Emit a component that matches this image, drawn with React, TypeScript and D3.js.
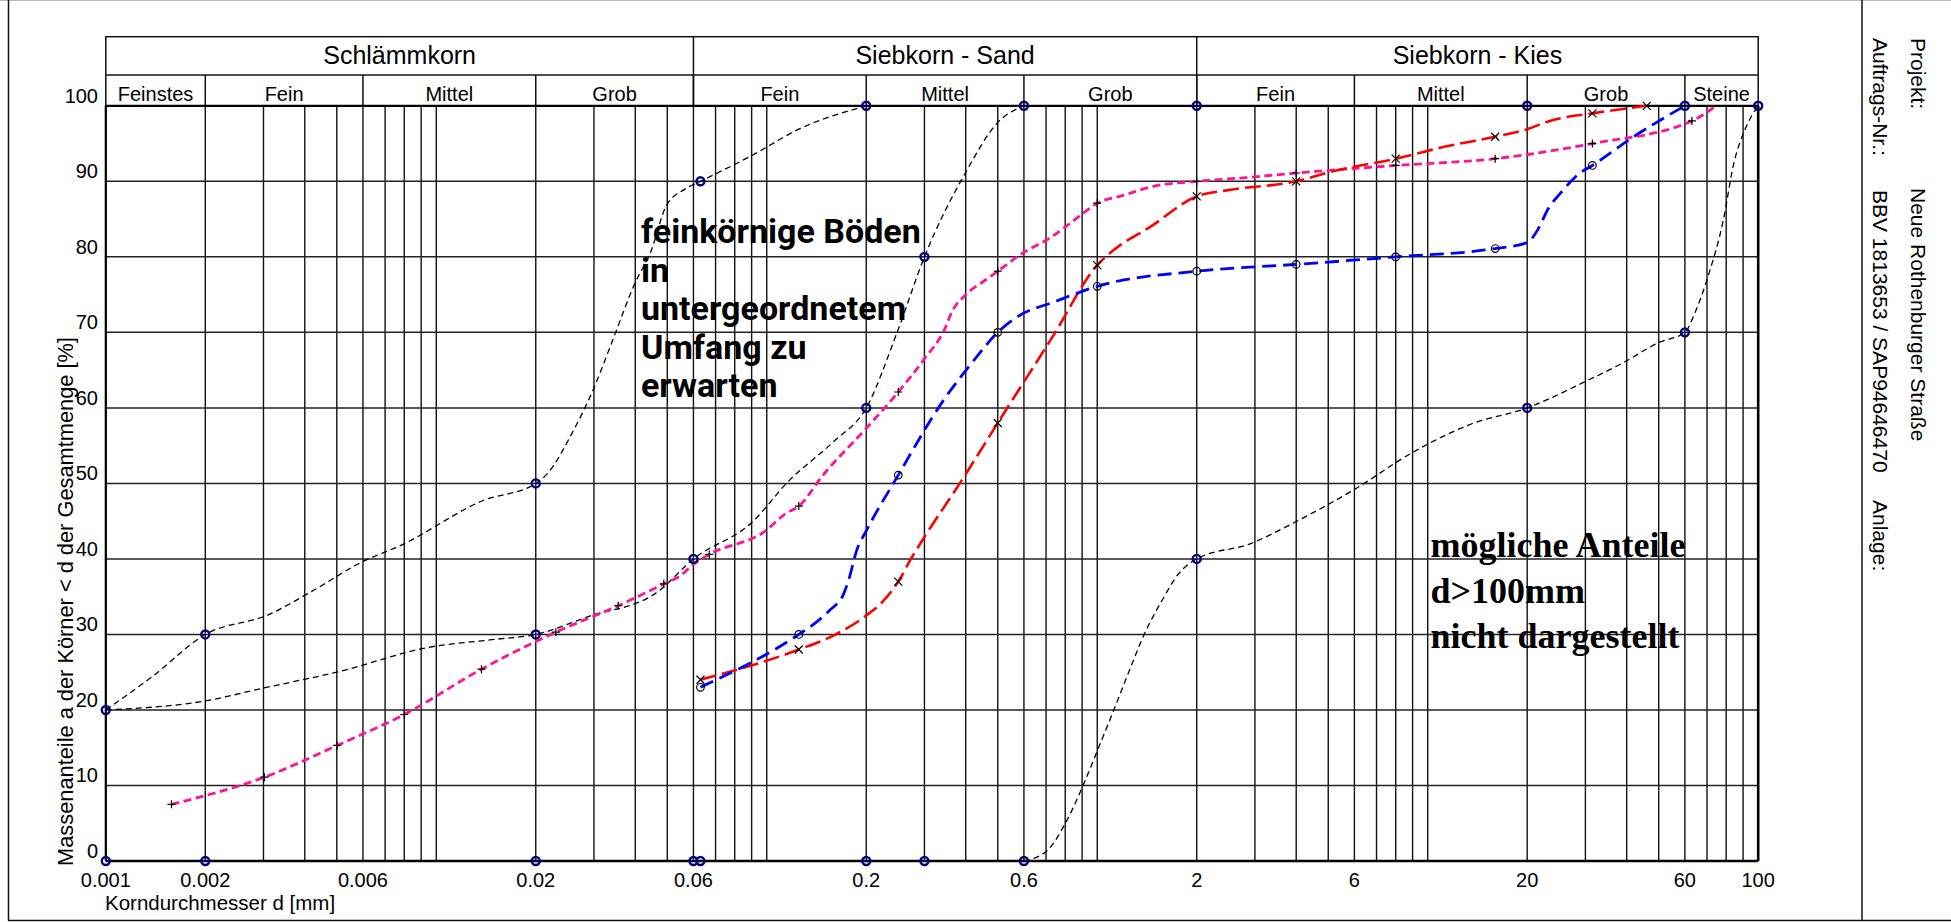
import * as d3 from "d3";

// Kornverteilung – Körnungslinien nach DIN 18123

const xTickLabels = [0.001, 0.002, 0.006, 0.02, 0.06, 0.2, 0.6, 2, 6, 20, 60, 100];
const yTickLabels = [0, 10, 20, 30, 40, 50, 60, 70, 80, 90, 100];

// top header row: [label, from, to]
const groupBands: [string, number, number][] = [
  ["Schlämmkorn", 0.001, 0.06],
  ["Siebkorn - Sand", 0.06, 2],
  ["Siebkorn - Kies", 2, 100],
];

// second header row
const subBands: [string, number, number][] = [
  ["Feinstes", 0.001, 0.002],
  ["Fein", 0.002, 0.006],
  ["Mittel", 0.006, 0.02],
  ["Grob", 0.02, 0.06],
  ["Fein", 0.06, 0.2],
  ["Mittel", 0.2, 0.6],
  ["Grob", 0.6, 2],
  ["Fein", 2, 6],
  ["Mittel", 6, 20],
  ["Grob", 20, 60],
  ["Steine", 60, 100],
];

// boundary curves (black, thin dashed): [d mm, % passing]
const boundaryA: [number, number][] = [
  [0.001, 20], [0.00138, 24.4], [0.002, 30], [0.0031, 32.6], [0.0042, 35.7],
  [0.0059, 39.5], [0.0079, 41.9], [0.0138, 47.7], [0.02, 50], [0.0218, 51.4],
  [0.0255, 56.3], [0.0299, 62.5], [0.034, 68.7], [0.04, 76.6], [0.0445, 80.6],
  [0.0497, 86.8], [0.0567, 89.0], [0.063, 90], [0.09, 93.4], [0.125, 96.9], [0.2, 100],
];
const boundaryB: [number, number][] = [
  [0.001, 20], [0.002, 21.2], [0.003, 22.9], [0.0051, 25.1], [0.0095, 28.3],
  [0.0147, 29.3], [0.02, 30], [0.029, 32.4], [0.0463, 35.5], [0.06, 40],
  [0.09, 44.8], [0.117, 50.4], [0.159, 55.5], [0.2, 60], [0.248, 70], [0.3, 80],
  [0.4, 91.2], [0.5, 97.8], [0.6, 100],
];
const boundaryC: [number, number][] = [
  [0.6, 0], [0.706, 1.4], [0.81, 5.4], [0.91, 10.2], [1.02, 15.5], [1.12, 19.9],
  [1.24, 24.8], [1.39, 30.1], [1.57, 34.5], [1.76, 38], [2, 40], [2.9, 42],
  [4.06, 45.1], [6, 49.2], [9, 54.1], [13.6, 57.9], [20, 60], [29.7, 63.4],
  [39.1, 66], [50.3, 68.7], [60, 70], [64.5, 72.7], [70.6, 77.5], [78.2, 84.6],
  [84.5, 92.5], [91.3, 96.9], [100, 100],
];
// navy circles on the boundary curves and the frame
const boundaryNodes: [number, number][] = [
  [0.001, 0], [0.002, 0], [0.02, 0], [0.06, 0], [0.063, 0], [0.2, 0], [0.3, 0], [0.6, 0],
  [0.2, 100], [0.6, 100], [2, 100], [20, 100], [60, 100], [100, 100],
  [0.001, 20], [0.002, 30], [0.02, 50], [0.063, 90],
  [0.02, 30], [0.06, 40], [0.2, 60], [0.3, 80],
  [2, 40], [20, 60], [60, 70],
];

// sample curves: [d mm, % passing, 1 = measured point]
const pinkCurve: [number, number, number][] = [
  [0.00158, 7.5, 1], [0.00302, 11.1, 1], [0.00501, 15.3, 1], [0.008, 19.4, 1],
  [0.0137, 25.4, 1], [0.023, 30.3, 1], [0.0355, 33.8, 1], [0.0488, 36.7, 1],
  [0.0549, 37.8, 0], [0.06, 39.3, 0], [0.067, 40.6, 1], [0.099, 43.7, 0],
  [0.114, 46.0, 0], [0.125, 47, 1], [0.148, 51.1, 0], [0.2, 57.3, 0], [0.25, 62.1, 1],
  [0.3, 66.5, 0], [0.346, 70.5, 0], [0.363, 72.7, 0], [0.398, 74.9, 0], [0.458, 76.9, 0],
  [0.5, 78.1, 1], [0.581, 80.2, 0], [0.737, 82.8, 0], [0.89, 85.5, 0], [1, 87.1, 1],
  [1.19, 88.1, 0], [1.5, 89.4, 0], [2, 90, 1], [2.83, 90.5, 0], [4, 91.1, 1],
  [8, 92.1, 1], [16, 93, 1], [31.5, 95, 1], [63, 98, 1], [69.7, 99.1, 0], [74.3, 100, 0],
];
const redCurve: [number, number, number][] = [
  [0.063, 24, 1], [0.125, 28, 1], [0.159, 29.85, 0], [0.2, 32.5, 0], [0.226, 34.5, 0],
  [0.25, 37, 1], [0.273, 40, 0], [0.3, 42.9, 0], [0.389, 50.4, 0], [0.5, 58, 1],
  [0.737, 69.6, 0], [1, 78.9, 1], [1.1, 80.6, 0], [1.45, 84, 0], [2, 88, 1],
  [2.46, 88.8, 0], [4, 90, 1], [5.25, 91.4, 0], [8, 93, 1], [11.6, 94.7, 0],
  [16, 95.9, 1], [20, 96.9, 0], [23.4, 98, 0], [31.5, 99, 1], [46, 100, 1],
];
const blueCurve: [number, number, number][] = [
  [0.063, 23, 1], [0.125, 30, 1], [0.141, 31.6, 0], [0.155, 33.2, 0], [0.171, 35.4, 0],
  [0.178, 37.6, 0], [0.187, 41.1, 0], [0.2, 43.7, 0], [0.25, 51.1, 1], [0.34, 60.8, 0],
  [0.42, 66.1, 0], [0.5, 70, 1], [0.58, 72.2, 0], [0.737, 74, 0], [1, 76.1, 1],
  [2, 78.1, 1], [4, 79, 1], [8, 80, 1], [16, 81.1, 1], [20, 81.9, 0], [21.6, 83.7, 0],
  [23.1, 86.3, 0], [25.3, 88.5, 0], [28.7, 91, 0], [31.5, 92.1, 1], [42.3, 96, 0],
  [60, 100, 0],
];

const noteFine = ["feinkörnige Böden", "in", "untergeordnetem", "Umfang zu", "erwarten"];
const noteCoarse = ["mögliche Anteile", "d>100mm", "nicht dargestellt"];

const SANS = "Liberation Sans, Arial, Roboto, sans-serif";
// no bold face of Liberation Sans here, Roboto has one
const SANS_BOLD = "Roboto, 'DejaVu Sans', sans-serif";
const SERIF = "Liberation Serif, Times New Roman, serif";

export default function App() {
  const W = 1951;
  const H = 922;
  const x = d3.scaleLog().domain([0.001, 100]).range([105.8, 1758.2]);
  const y = d3.scaleLinear().domain([0, 100]).range([861, 105.8]);
  const headTop = 36.7;
  const headMid = 75;
  const plotTop = y(100);
  const plotBot = y(0);
  const left = x(0.001);
  const right = x(100);

  const line = d3
    .line<[number, number] | [number, number, number]>()
    .x(d => x(d[0]))
    .y(d => y(d[1]))
    .curve(d3.curveMonotoneX);

  const gridX = x.ticks();
  const gridY = yTickLabels;

  const series = [
    { data: pinkCurve, color: "#ff1493", width: 2.8, dash: "8 4.5", mark: "plus" },
    { data: redCurve, color: "#ff0000", width: 2.6, dash: "16 6", mark: "cross" },
    { data: blueCurve, color: "#0000ff", width: 2.8, dash: "14 7", mark: "circle" },
  ];

  const marker = (kind: string, cx: number, cy: number, key: string) => {
    const s = 4;
    if (kind === "circle")
      return <circle key={key} cx={cx} cy={cy} r={3.8} fill="none" stroke="#000" strokeWidth={1.2} />;
    if (kind === "plus")
      return (
        <path key={key} d={`M${cx - s},${cy}H${cx + s}M${cx},${cy - s}V${cy + s}`} stroke="#000" strokeWidth={1.2} />
      );
    return (
      <path
        key={key}
        d={`M${cx - s},${cy - s}L${cx + s},${cy + s}M${cx - s},${cy + s}L${cx + s},${cy - s}`}
        stroke="#000"
        strokeWidth={1.2}
      />
    );
  };

  return (
    <svg
      width={W}
      height={H}
      style={{ position: "absolute", left: 0, top: 0, background: "#fff", fontFamily: SANS }}
    >
      {/* page frame */}
      <line x1={0} x2={W} y1={0.5} y2={0.5} stroke="#bbb" strokeWidth={1} />
      <line x1={8.5} x2={8.5} y1={0} y2={920.5} stroke="#111" strokeWidth={1.5} />
      <line x1={8} x2={W} y1={920.5} y2={920.5} stroke="#111" strokeWidth={1.5} />
      <line x1={1862} x2={1862} y1={0} y2={921} stroke="#111" strokeWidth={1.5} />

      {/* header */}
      <rect x={left} y={headTop} width={right - left} height={plotTop - headTop} fill="none" stroke="#111" strokeWidth={1.5} />
      <line x1={left} x2={right} y1={headMid} y2={headMid} stroke="#111" strokeWidth={1.5} />
      {groupBands.map(([label, a, b], i) => (
        <g key={"gb" + i}>
          {i > 0 && <line x1={x(a)} x2={x(a)} y1={headTop} y2={plotTop} stroke="#111" strokeWidth={1.5} />}
          <text x={(x(a) + x(b)) / 2} y={64} textAnchor="middle" fontSize={25}>
            {label}
          </text>
        </g>
      ))}
      {subBands.map(([label, a, b], i) => (
        <g key={"sb" + i}>
          {i > 0 && <line x1={x(a)} x2={x(a)} y1={headMid} y2={plotTop} stroke="#111" strokeWidth={1.5} />}
          <text x={(x(a) + x(b)) / 2} y={100.5} textAnchor="middle" fontSize={20}>
            {label}
          </text>
        </g>
      ))}

      {/* grid */}
      {gridX.map((v, i) => (
        <line key={"gx" + i} x1={x(v)} x2={x(v)} y1={plotTop} y2={plotBot} stroke="#111" strokeWidth={1.4} />
      ))}
      {gridY.map(v => (
        <line key={"gy" + v} x1={left} x2={right} y1={y(v)} y2={y(v)} stroke="#222" strokeWidth={1.5} />
      ))}
      <line x1={left} x2={left} y1={plotTop} y2={plotBot} stroke="#000" strokeWidth={2.2} />
      <line x1={right} x2={right} y1={plotTop} y2={plotBot} stroke="#000" strokeWidth={2.6} />
      <line x1={left} x2={right} y1={plotTop} y2={plotTop} stroke="#000" strokeWidth={2.2} />
      <line x1={left} x2={right} y1={plotBot} y2={plotBot} stroke="#000" strokeWidth={2.6} />

      {/* tick labels */}
      {yTickLabels.map(v => (
        <text key={"yt" + v} x={98} y={y(v) - 3} textAnchor="end" fontSize={20}>
          {v}
        </text>
      ))}
      {xTickLabels.map(v => (
        <text key={"xt" + v} x={x(v)} y={887} textAnchor="middle" fontSize={20}>
          {v}
        </text>
      ))}
      <text x={105} y={910} fontSize={20.5}>
        Korndurchmesser d [mm]
      </text>
      <text transform="translate(73,601.5) rotate(-90)" textAnchor="middle" fontSize={21.8}>
        Massenanteile a der Körner &lt; d der Gesamtmenge [%]
      </text>

      {/* boundary curves */}
      {[boundaryA, boundaryB, boundaryC].map((c, i) => (
        <path key={"bc" + i} d={line(c) || ""} fill="none" stroke="#000" strokeWidth={1.3} strokeDasharray="6 4" />
      ))}

      {/* sample curves */}
      {series.map((s, i) => (
        <path
          key={"sc" + i}
          d={line(s.data) || ""}
          fill="none"
          stroke={s.color}
          strokeWidth={s.width}
          strokeDasharray={s.dash}
        />
      ))}
      {series.map((s, i) =>
        s.data.filter(d => d[2] === 1).map((d, j) => marker(s.mark, x(d[0]), y(d[1]), `m${i}-${j}`))
      )}

      {boundaryNodes.map(([d, p], i) => (
        <circle key={"bn" + i} cx={x(d)} cy={y(p)} r={4} fill="none" stroke="#000080" strokeWidth={2.4} />
      ))}

      {/* annotations */}
      {noteFine.map((t, i) => (
        <text
          key={"nf" + i}
          x={641}
          y={243 + i * 38.5}
          style={{ fontFamily: SANS_BOLD, fontWeight: 700, fontSize: "34px" }}
        >
          {t}
        </text>
      ))}
      {noteCoarse.map((t, i) => (
        <text
          key={"nc" + i}
          x={1430.5}
          y={556.7 + i * 45.8}
          style={{ fontFamily: SERIF, fontWeight: 700, fontSize: "36px" }}
        >
          {t}
        </text>
      ))}

      {/* title block */}
      <g fontSize={21}>
        <text transform="translate(1911,38) rotate(90)">Projekt:</text>
        <text transform="translate(1911,188) rotate(90)">Neue Rothenburger Straße</text>
        <text transform="translate(1873,38) rotate(90)">Auftrags-Nr.:</text>
        <text transform="translate(1873,190) rotate(90)">BBV 1813653 / SAP94646470</text>
        <text transform="translate(1873,500) rotate(90)">Anlage:</text>
      </g>
    </svg>
  );
}
